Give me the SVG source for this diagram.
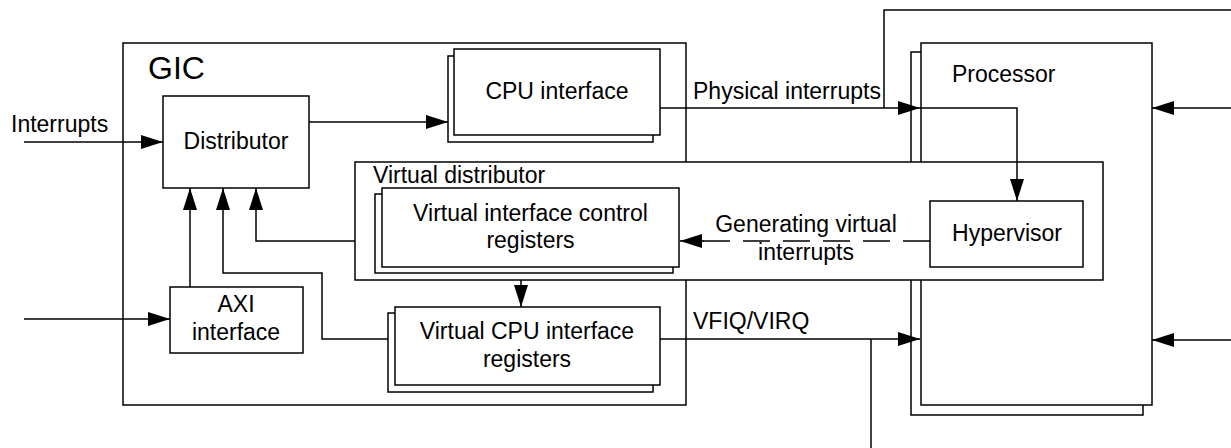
<svg xmlns="http://www.w3.org/2000/svg" width="1231" height="448" viewBox="0 0 1231 448">
<style>
.box{fill:#fff;stroke:#000;stroke-width:1.5}
.ln{fill:none;stroke:#000;stroke-width:1.5}
.dash{fill:none;stroke:#000;stroke-width:1.5;stroke-dasharray:27 13}
text{font-family:"Liberation Sans",Arial,sans-serif;font-size:23px;fill:#000}
.c{text-anchor:middle}
</style>
<defs>
<marker id="arr" markerUnits="userSpaceOnUse" markerWidth="22" markerHeight="14" refX="22" refY="7" orient="auto" viewBox="0 0 22 14">
<path d="M0,0 L22,7 L0,14 z" fill="#000"/>
</marker>
</defs>
<rect width="1231" height="448" fill="#fff"/>
<g id="gic">
<rect class="box" x="123" y="43" width="563" height="362"/>
<text x="148" y="79" style="font-size:32px">GIC</text>
</g>
<g id="processor">
<rect class="box" x="911" y="52" width="232" height="363"/>
<rect class="box" x="921" y="43" width="231" height="362"/>
<text x="952" y="82">Processor</text>
</g>
<g id="virtual-distributor">
<rect class="box" x="355" y="162" width="748" height="118"/>
<text x="373" y="183">Virtual distributor</text>
</g>
<g id="distributor">
<rect class="box" x="163" y="96" width="146" height="92"/>
<text class="c" x="236" y="149">Distributor</text>
</g>
<g id="cpu-interface">
<rect class="box" x="448" y="56" width="205" height="86"/>
<rect class="box" x="454" y="49" width="206" height="86"/>
<text class="c" x="557" y="99">CPU interface</text>
</g>
<g id="virtual-interface-control">
<rect class="box" x="375" y="194" width="298" height="79"/>
<rect class="box" x="382" y="188" width="297" height="79"/>
<text class="c" x="530.5" y="221">Virtual interface control</text>
<text class="c" x="530.5" y="248">registers</text>
</g>
<g id="hypervisor">
<rect class="box" x="930" y="201" width="153" height="66"/>
<text class="c" x="1007" y="241">Hypervisor</text>
</g>
<g id="axi">
<rect class="box" x="170" y="287" width="133" height="66"/>
<text class="c" x="236" y="312">AXI</text>
<text class="c" x="236" y="340">interface</text>
</g>
<g id="virtual-cpu-interface">
<rect class="box" x="388" y="313" width="265" height="79"/>
<rect class="box" x="395" y="307" width="265" height="78"/>
<text class="c" x="527" y="339">Virtual CPU interface</text>
<text class="c" x="527" y="367">registers</text>
</g>
<g id="connectors">
<path class="ln" d="M24,142 H163" marker-end="url(#arr)"/>
<path class="ln" d="M309,122 H448" marker-end="url(#arr)"/>
<path class="ln" d="M660,108 H920" marker-end="url(#arr)"/>
<path class="ln" d="M920,108 H1017 V201" marker-end="url(#arr)"/>
<path class="ln" d="M884,108 V10 H1231"/>
<path class="ln" d="M1231,108 H1152" marker-end="url(#arr)"/>
<path class="ln" d="M1231,340 H1152" marker-end="url(#arr)"/>
<path class="dash" d="M930,241 H703"/>
<path class="ln" d="M704,241 H680" marker-end="url(#arr)"/>
<path class="ln" d="M355,241 H256 V188" marker-end="url(#arr)"/>
<path class="ln" d="M388,339 H322 V273 H223 V188" marker-end="url(#arr)"/>
<path class="ln" d="M190,287 V188" marker-end="url(#arr)"/>
<path class="ln" d="M24,319 H170" marker-end="url(#arr)"/>
<path class="ln" d="M521,280 V307" marker-end="url(#arr)"/>
<path class="ln" d="M660,339 H920" marker-end="url(#arr)"/>
<path class="ln" d="M871,339 V448"/>
</g>
<g id="labels">
<text x="11" y="132">Interrupts</text>
<text x="693" y="99">Physical interrupts</text>
<text class="c" x="806" y="232">Generating virtual</text>
<text class="c" x="806" y="260">interrupts</text>
<text x="693" y="329">VFIQ/VIRQ</text>
</g>
</svg>
